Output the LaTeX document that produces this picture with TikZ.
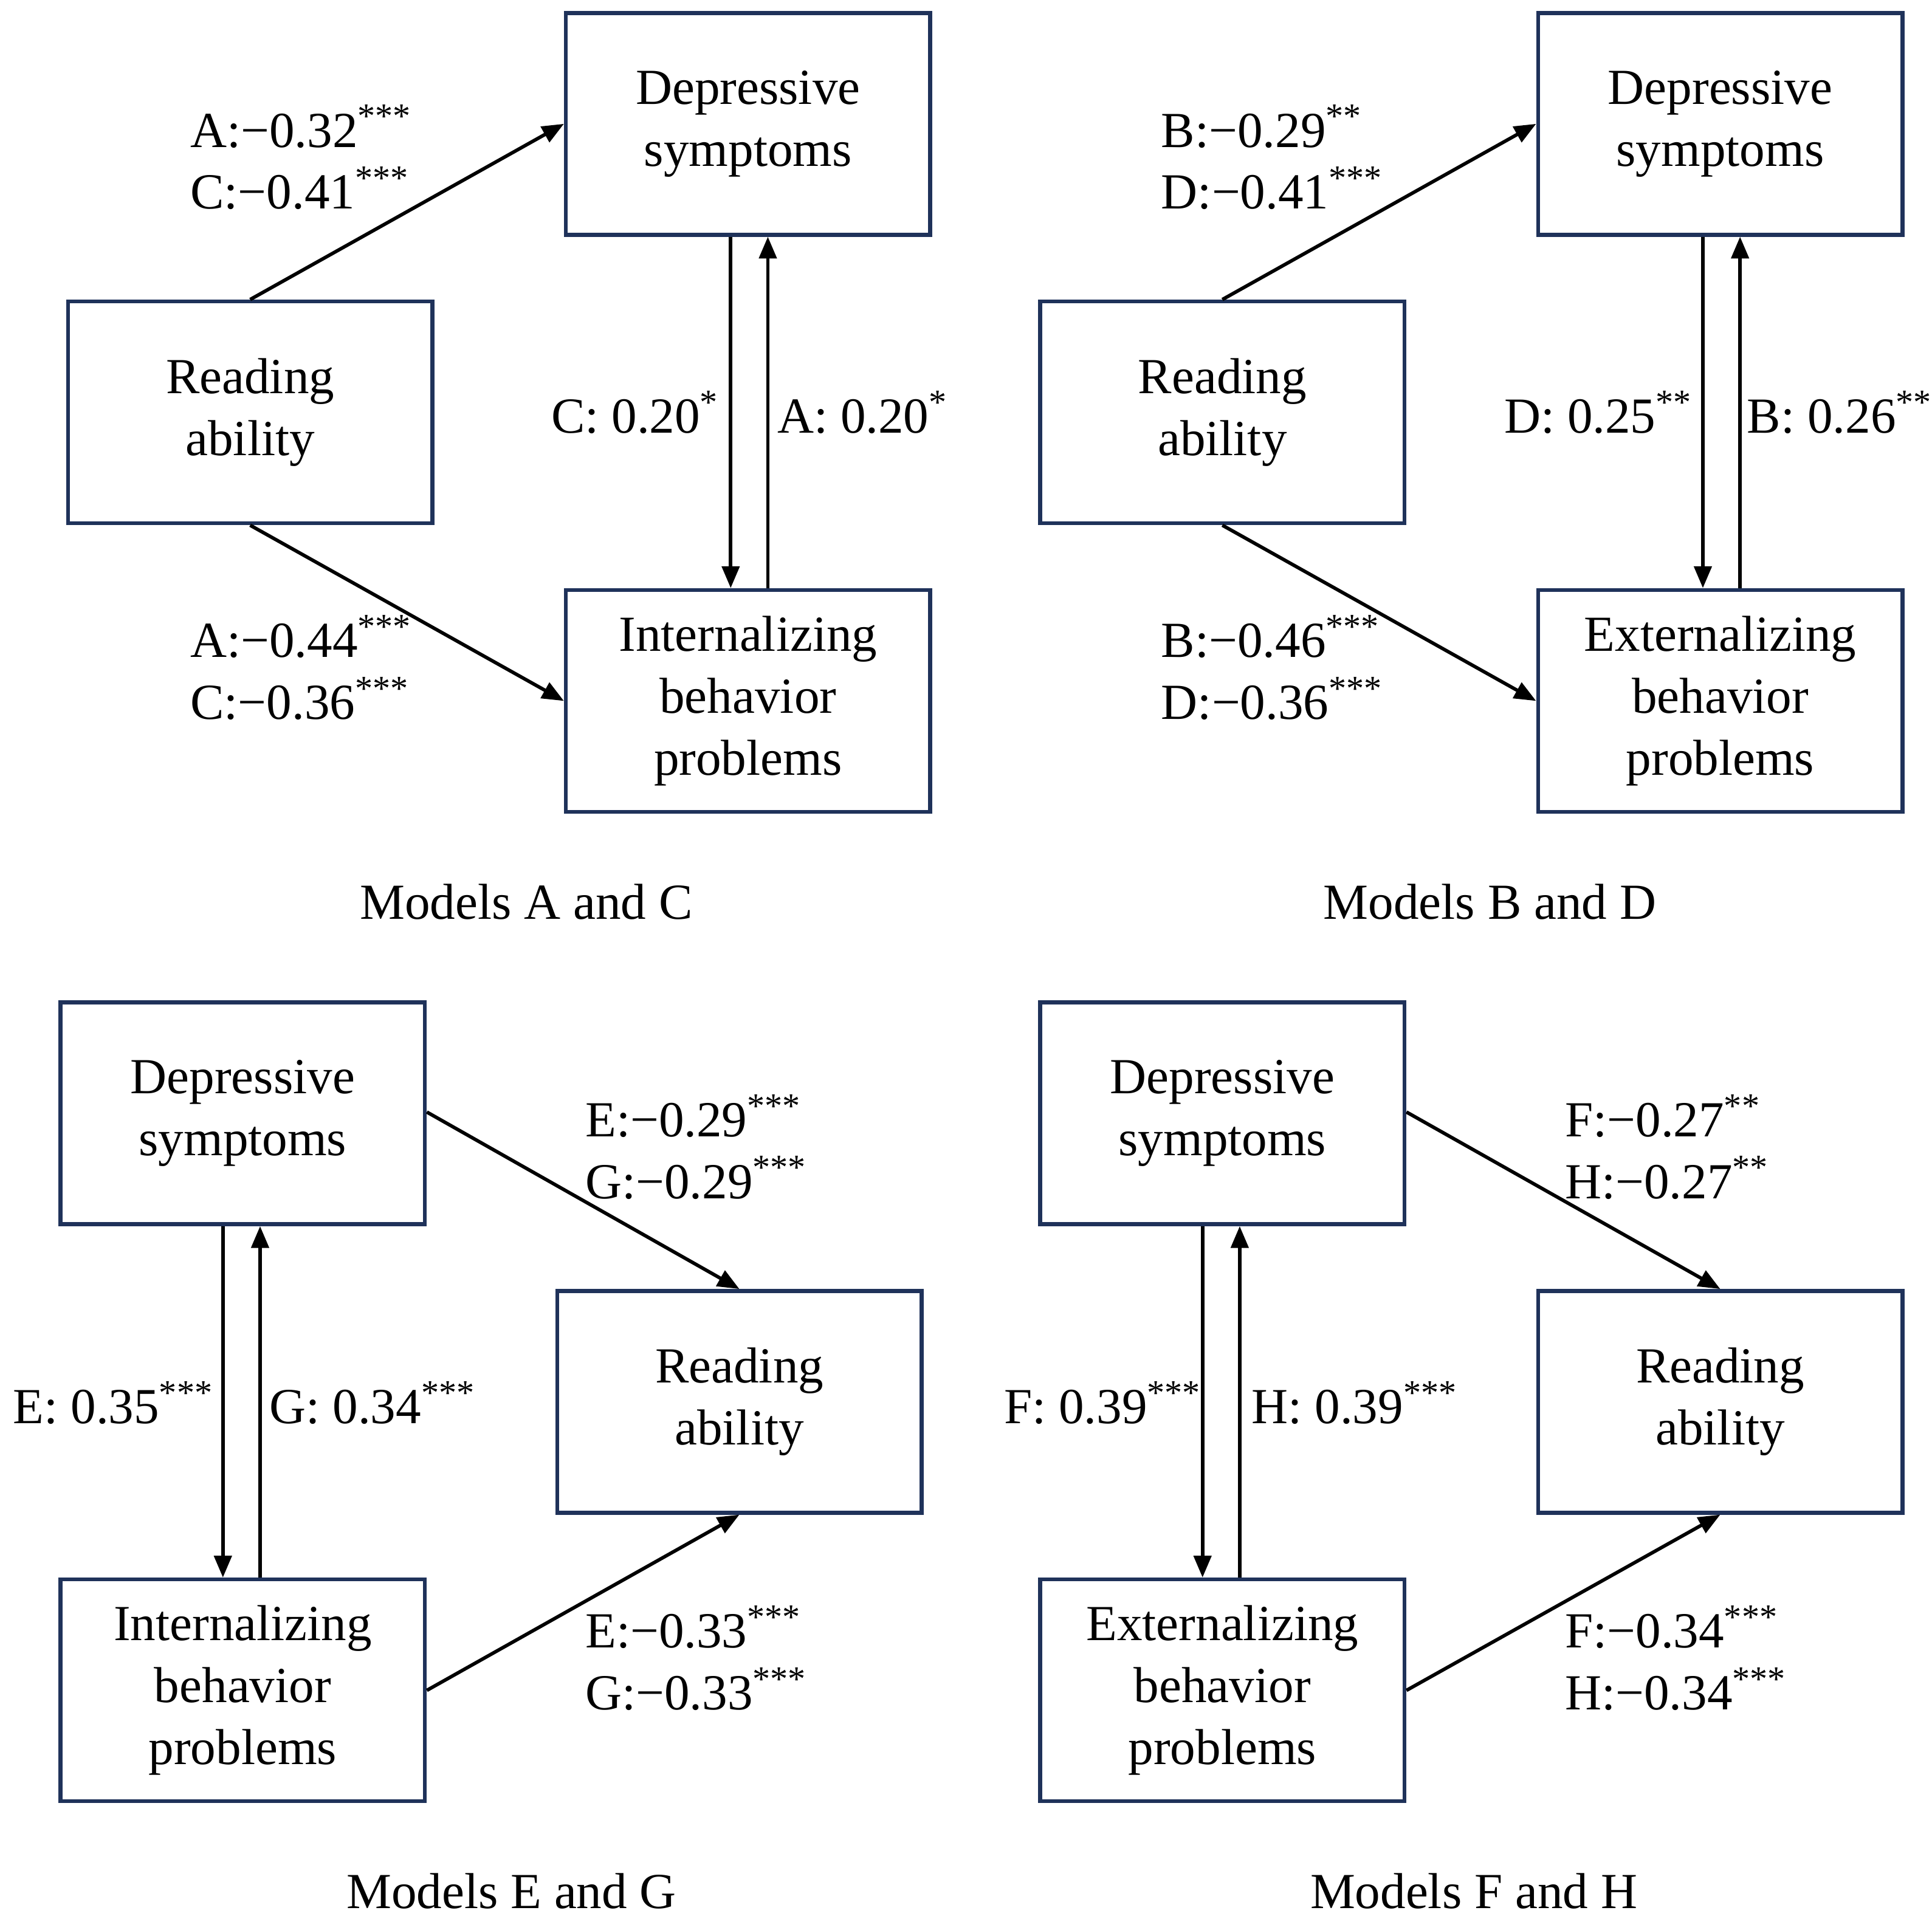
\documentclass[tikz,border=0pt]{standalone}
\usepackage{fontspec}
\setmainfont{Liberation Serif}
\usetikzlibrary{arrows.meta}
\definecolor{boxline}{RGB}{31,50,90}
\begin{document}
\begin{tikzpicture}[
		x=0.01cm, y=-0.01cm,
		font=\fontsize{11.6}{14.2}\selectfont,
		var box/.style={
			rectangle, draw=boxline, line width=0.9pt, align=center,
			minimum width=2.94cm, minimum height=1.79cm, inner sep=0pt,
		},
		coef/.style={align=left, inner sep=0pt},
		path arrow/.style={-{Triangle[length=5pt,width=4pt]}, line width=0.8pt},
	]
		\useasboundingbox (0,0) rectangle (1560,1547);
		% top left: models A and C
		\node[var box] (depAC) at (604,100) {Depressive\\symptoms};
		\node[var box] (readAC) at (202,333) {Reading\\ability};
		\node[var box] (intAC) at (604,566) {Internalizing\\behavior\\problems};
		\draw[path arrow] (readAC.north) -- (depAC.west);
		\draw[path arrow] (readAC.south) -- (intAC.west);
		\draw[path arrow] ([xshift=-0.14cm]depAC.south) -- ([xshift=-0.14cm]intAC.north);
		\draw[path arrow] ([xshift=0.16cm]intAC.north) -- ([xshift=0.16cm]depAC.south);
		\node[coef, anchor=west] (ac1) at (153,127) {A:−0.32\textsuperscript{***}\\C:−0.41\textsuperscript{***}};
		\node[coef, anchor=west] (ac2) at (153,539) {A:−0.44\textsuperscript{***}\\C:−0.36\textsuperscript{***}};
		\node[coef, anchor=east] (ac3) at (582,333) {C: 0.20\textsuperscript{*}};
		\node[coef, anchor=west] (ac4) at (627,333) {A: 0.20\textsuperscript{*}};
		\node (capAC) at (425,728) {Models A and C};
		% top right: models B and D
		\node[var box] (depBD) at (1389,100) {Depressive\\symptoms};
		\node[var box] (readBD) at (987,333) {Reading\\ability};
		\node[var box] (extBD) at (1389,566) {Externalizing\\behavior\\problems};
		\draw[path arrow] (readBD.north) -- (depBD.west);
		\draw[path arrow] (readBD.south) -- (extBD.west);
		\draw[path arrow] ([xshift=-0.14cm]depBD.south) -- ([xshift=-0.14cm]extBD.north);
		\draw[path arrow] ([xshift=0.16cm]extBD.north) -- ([xshift=0.16cm]depBD.south);
		\node[coef, anchor=west] (bd1) at (937,127) {B:−0.29\textsuperscript{**}\\D:−0.41\textsuperscript{***}};
		\node[coef, anchor=west] (bd2) at (937,539) {B:−0.46\textsuperscript{***}\\D:−0.36\textsuperscript{***}};
		\node[coef, anchor=east] (bd3) at (1368,333) {D: 0.25\textsuperscript{**}};
		\node[coef, anchor=west] (bd4) at (1410,333) {B: 0.26\textsuperscript{**}};
		\node (capBD) at (1203,728) {Models B and D};
		% bottom left: models E and G
		\node[var box] (depEG) at (196,899) {Depressive\\symptoms};
		\node[var box] (readEG) at (597,1132) {Reading\\ability};
		\node[var box] (intEG) at (196,1365) {Internalizing\\behavior\\problems};
		\draw[path arrow] ([yshift=0.01cm]depEG.east) -- (readEG.north);
		\draw[path arrow] (intEG.east) -- (readEG.south);
		\draw[path arrow] ([xshift=-0.16cm]depEG.south) -- ([xshift=-0.16cm]intEG.north);
		\draw[path arrow] ([xshift=0.14cm]intEG.north) -- ([xshift=0.14cm]depEG.south);
		\node[coef, anchor=west] (eg1) at (472,926) {E:−0.29\textsuperscript{***}\\G:−0.29\textsuperscript{***}};
		\node[coef, anchor=west] (eg2) at (472,1339) {E:−0.33\textsuperscript{***}\\G:−0.33\textsuperscript{***}};
		\node[coef, anchor=west] (eg3) at (10,1133) {E: 0.35\textsuperscript{***}};
		\node[coef, anchor=west] (eg4) at (217,1133) {G: 0.34\textsuperscript{***}};
		\node (capEG) at (413,1527) {Models E and G};
		% bottom right: models F and H
		\node[var box] (depFH) at (987,899) {Depressive\\symptoms};
		\node[var box] (readFH) at (1389,1132) {Reading\\ability};
		\node[var box] (extFH) at (987,1365) {Externalizing\\behavior\\problems};
		\draw[path arrow] ([yshift=0.01cm]depFH.east) -- (readFH.north);
		\draw[path arrow] (extFH.east) -- (readFH.south);
		\draw[path arrow] ([xshift=-0.16cm]depFH.south) -- ([xshift=-0.16cm]extFH.north);
		\draw[path arrow] ([xshift=0.14cm]extFH.north) -- ([xshift=0.14cm]depFH.south);
		\node[coef, anchor=west] (fh1) at (1263,926) {F:−0.27\textsuperscript{**}\\H:−0.27\textsuperscript{**}};
		\node[coef, anchor=west] (fh2) at (1263,1339) {F:−0.34\textsuperscript{***}\\H:−0.34\textsuperscript{***}};
		\node[coef, anchor=west] (fh3) at (810,1133) {F: 0.39\textsuperscript{***}};
		\node[coef, anchor=west] (fh4) at (1010,1133) {H: 0.39\textsuperscript{***}};
		\node (capFH) at (1190,1527) {Models F and H};
	\end{tikzpicture}
\end{document}
